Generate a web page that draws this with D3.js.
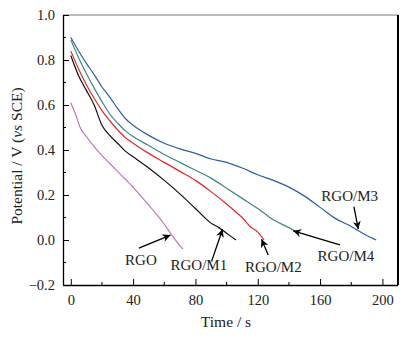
<!DOCTYPE html>
<html><head><meta charset="utf-8">
<script src="https://cdn.jsdelivr.net/npm/d3@7"></script>
<style>body{margin:0;background:#fff}svg{display:block}svg text{font-family:"Liberation Serif","Times New Roman","DejaVu Serif",serif}</style>
</head><body>
<svg id="c" width="415" height="337"></svg>
<script>
// ---- data ----
const seriesNames = ["RGO/M3", "RGO/M4", "RGO/M2", "RGO/M1", "RGO"];
const seriesColors = ["#2f5ea6", "#3f8783", "#e2282b", "#111111", "#b67cb8"];
const timeM3 = [0,5,10,15,20,25,30,35,40,50,60,70,80,90,100,110,120,130,140,150,160,170,180,190,196];
const potM3  = [0.90,0.84,0.785,0.735,0.68,0.635,0.585,0.54,0.51,0.465,0.43,0.405,0.385,0.36,0.345,0.32,0.29,0.265,0.235,0.195,0.145,0.095,0.06,0.02,0.0];
const timeM4 = [0,5,10,15,20,25,30,35,40,50,60,70,80,90,100,110,120,130,140,144];
const potM4  = [0.89,0.81,0.74,0.675,0.615,0.56,0.52,0.485,0.46,0.42,0.38,0.345,0.31,0.275,0.23,0.185,0.14,0.09,0.055,0.04];
const timeM2 = [0,5,10,15,20,25,30,35,40,50,60,70,80,90,100,105,110,115,120,124];
const potM2  = [0.84,0.76,0.69,0.63,0.575,0.53,0.49,0.455,0.43,0.385,0.345,0.305,0.265,0.215,0.16,0.13,0.10,0.06,0.035,0.0];
const timeM1 = [0,5,10,15,20,25,30,35,40,50,60,70,80,90,95,100,106];
const potM1  = [0.82,0.73,0.665,0.6,0.51,0.465,0.43,0.395,0.37,0.32,0.265,0.205,0.14,0.075,0.055,0.03,0.0];
const timeRGO = [0,3,6,10,15,20,25,30,35,40,45,50,55,60,65,70,72];
const potRGO  = [0.61,0.56,0.50,0.46,0.415,0.375,0.34,0.305,0.27,0.235,0.195,0.155,0.115,0.07,0.02,-0.025,-0.04];
const xTicks = [0,40,80,120,160,200];
const yTicks = [-0.2,0.0,0.2,0.4,0.6,0.8,1.0];
// annotation: label, text anchor (x,y), arrow start (x,y), arrow tip (x,y) in data units
const annLabels = ["RGO","RGO/M1","RGO/M2","RGO/M3","RGO/M4"];
const annText   = [[45,-0.111],[82.2,-0.133],[130,-0.142],[179,0.173],[176.6,-0.093]];
const annFrom   = [[43.7,-0.036],[90.3,-0.096],[126.7,-0.067],[181.7,0.148],[172.7,-0.022]];
const annTip    = [[64,0.022],[97.4,0.048],[122.4,0.003],[184.5,0.048],[142.7,0.041]];

const series = [
  {t: timeM3, v: potM3}, {t: timeM4, v: potM4}, {t: timeM2, v: potM2},
  {t: timeM1, v: potM1}, {t: timeRGO, v: potRGO}
];

// ---- layout ----
const svg = d3.select("#c");
const L = 63, R = 398, T = 15, B = 285;
const x = d3.scaleLinear().domain([-5, 210]).range([L, R]);
const y = d3.scaleLinear().domain([-0.2, 1.0]).range([B, T]);
const font = "Liberation Serif, Times New Roman, serif";

// frame
svg.append("line").attr("x1",L).attr("x2",R).attr("y1",T).attr("y2",T).attr("stroke","#777").attr("stroke-width",1);
svg.append("line").attr("x1",R).attr("x2",R).attr("y1",T).attr("y2",B).attr("stroke","#000").attr("stroke-width",2);

// axes
const xAxis = d3.axisBottom(x).tickValues(xTicks).tickSizeInner(-6).tickSizeOuter(0).tickPadding(10).tickFormat(d3.format("d"));
const gx = svg.append("g").attr("transform",`translate(0,${B})`).call(xAxis);
const xMinor = d3.range(20, 210, 40);
gx.selectAll(".minor").data(xMinor).enter().append("line").attr("class","minor")
  .attr("x1",d=>x(d)).attr("x2",d=>x(d)).attr("y1",0).attr("y2",-3).attr("stroke","#000");

const yAxis = d3.axisLeft(y).tickValues(yTicks).tickSizeInner(-6).tickSizeOuter(0).tickPadding(8)
  .tickFormat(d => (d < 0 ? "\u2212" : "") + Math.abs(d).toFixed(1));
const gy = svg.append("g").attr("transform",`translate(${L},0)`).call(yAxis);
const yMinor = [-0.1,0.1,0.3,0.5,0.7,0.9];
gy.selectAll(".minor").data(yMinor).enter().append("line").attr("class","minor")
  .attr("x1",0).attr("x2",3).attr("y1",d=>y(d)).attr("y2",d=>y(d)).attr("stroke","#000");

[gx, gy].forEach(g => {
  g.attr("font-family", font);
  g.select(".domain").attr("stroke","#000").attr("stroke-width",1.3);
  g.selectAll(".tick line").attr("stroke","#000");
  g.selectAll("text").attr("font-size",14.5).attr("fill","#222");
});
gx.select(".domain").attr("d",`M${L},0.5H${R}`);
gy.select(".domain").attr("d",`M0.5,${B}V${T}`);

// axis titles
svg.append("text").attr("x",226).attr("y",327).attr("text-anchor","middle")
  .attr("font-size",15.5).attr("fill","#222").text("Time / s");
const yt = svg.append("text").attr("transform","translate(22,156) rotate(-90)").attr("text-anchor","middle")
  .attr("font-size",15.5).attr("fill","#222");
yt.append("tspan").text("Potential / V (");
yt.append("tspan").attr("font-style","italic").text("vs");
yt.append("tspan").text(" SCE)");

// lines
const line = d3.line().x(d=>x(d[0])).y(d=>y(d[1])).curve(d3.curveMonotoneX);
series.forEach((s,i) => {
  svg.append("path").datum(d3.zip(s.t, s.v)).attr("d", line)
    .attr("fill","none").attr("stroke",seriesColors[i]).attr("stroke-width",1.2);
});

// annotations
svg.append("defs").append("marker").attr("id","ah").attr("viewBox","0 0 10 10")
  .attr("refX",10).attr("refY",5).attr("markerWidth",9).attr("markerHeight",8)
  .attr("markerUnits","userSpaceOnUse").attr("orient","auto")
  .append("path").attr("d","M0,0L10,5L0,10L3,5Z").attr("fill","#000");
annLabels.forEach((lab,i) => {
  svg.append("line").attr("x1",x(annFrom[i][0])).attr("y1",y(annFrom[i][1]))
    .attr("x2",x(annTip[i][0])).attr("y2",y(annTip[i][1]))
    .attr("stroke","#000").attr("stroke-width",1.3).attr("marker-end","url(#ah)");
  svg.append("text").attr("x",x(annText[i][0])).attr("y",y(annText[i][1])).attr("text-anchor","middle")
    .attr("font-size",15).attr("fill","#222").text(lab);
});
</script>
</body></html>
